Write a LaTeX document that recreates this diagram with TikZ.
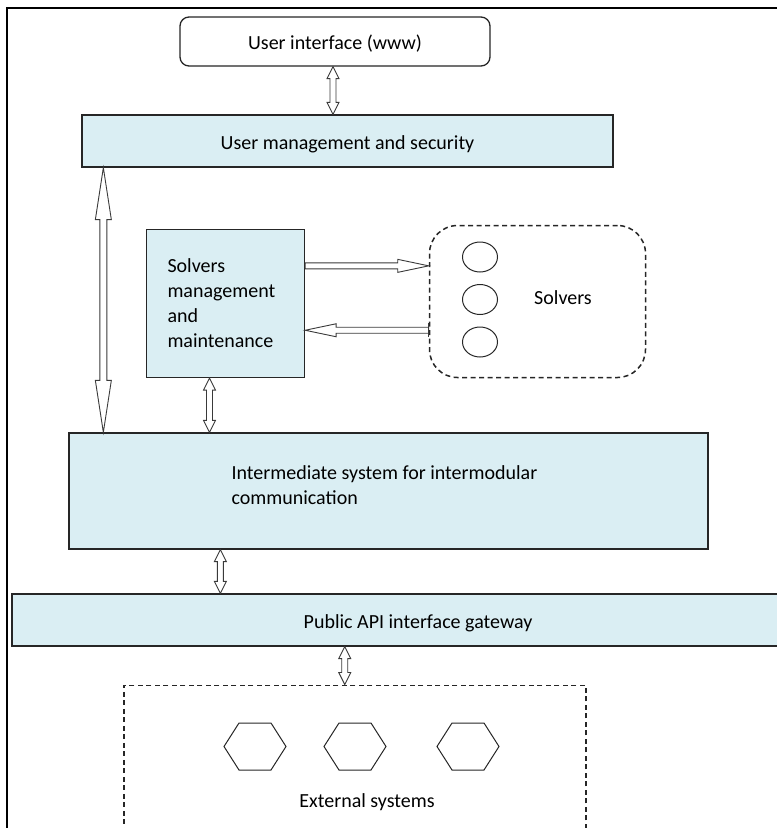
\documentclass[tikz,border=0pt]{standalone}
\usepackage{fontspec}
\setmainfont{Carlito}
\usetikzlibrary{calc,shapes.geometric}

\definecolor{boxfill}{HTML}{DAEEF3}
\definecolor{boxline}{HTML}{262626}
\definecolor{arrowgray}{HTML}{3A3A3A}

\tikzset{
  bluebox/.style={draw=boxline, fill=boxfill, line width=1.3pt, inner sep=0pt},
  whitebox/.style={draw=boxline, fill=white, line width=1.3pt, inner sep=0pt, rounded corners=9pt},
  dashbox/.style={draw=boxline, line width=1.5pt, dash pattern=on 5pt off 3.5pt, inner sep=0pt},
  solver/.style={draw=boxline, line width=1pt, ellipse, minimum width=35pt, minimum height=30pt, inner sep=0pt},
  blockarrow/.style={draw=arrowgray, fill=white, line width=0.9pt, line join=miter},
  lowtext/.style={text height=19pt, text depth=3pt},
  every node/.style={font=\fontsize{20}{25}\selectfont}
}

% hollow block arrow with heads at both ends:
% start, end, shaft half-width, head half-width, head length
\newcommand\twowayarrow[5]{%
  \draw[blockarrow] (#1)
    -- ($(#1)!#5!(#2)!#4!90:(#2)$)
    -- ($(#1)!#5!(#2)!#3!90:(#2)$)
    -- ($(#2)!#5!(#1)!#3!270:(#1)$)
    -- ($(#2)!#5!(#1)!#4!270:(#1)$)
    -- (#2)
    -- ($(#2)!#5!(#1)!#4!90:(#1)$)
    -- ($(#2)!#5!(#1)!#3!90:(#1)$)
    -- ($(#1)!#5!(#2)!#3!270:(#2)$)
    -- ($(#1)!#5!(#2)!#4!270:(#2)$)
    -- cycle;}

% hollow block arrow with one head, at the end
\newcommand\onewayarrow[5]{%
  \draw[blockarrow] ($(#1)!#3!90:(#2)$)
    -- ($(#2)!#5!(#1)!#3!270:(#1)$)
    -- ($(#2)!#5!(#1)!#4!270:(#1)$)
    -- (#2)
    -- ($(#2)!#5!(#1)!#4!90:(#1)$)
    -- ($(#2)!#5!(#1)!#3!90:(#1)$)
    -- ($(#1)!#3!270:(#2)$)
    -- cycle;}

\begin{document}
\begin{tikzpicture}[x=1pt, y=-1pt]
\useasboundingbox (0,0) rectangle (777,828);
\clip (0,0) rectangle (777,828);

% frame
\draw[line width=1.5pt] (7,828) -- (7,8) -- (777,8);

% layers
\node[whitebox, lowtext, minimum width=310pt, minimum height=49pt] (ui) at (335,41.5) {User interface (www)};
\node[bluebox, lowtext, minimum width=531pt, minimum height=52pt] (um) at (347.5,141) {User management and security};
\node[bluebox, minimum width=158pt, minimum height=148pt, text width=116pt, inner xsep=21pt, align=left] (sm) at (225.5,303.5)
  {Solvers\\management\\and\\maintenance};
\node[bluebox, minimum width=639pt, minimum height=116pt] (is) at (388.5,491) {};
\node[anchor=west, align=left] (istext) at (228,485.5) {Intermediate system for intermodular\\communication};
\node[bluebox, lowtext, minimum width=812pt, minimum height=52pt] (api) at (418,620) {Public API interface gateway};

% solvers group
\node[dashbox, rounded corners=28pt, minimum width=216pt, minimum height=152pt] (sol) at (537.5,301.5) {};
\node[solver] (c1) at (480,257) {};
\node[solver] (c2) at (480,299.5) {};
\node[solver] (c3) at (480,342) {};
\node (soltext) at (563,297.5) {Solvers};

% external systems group
\node[dashbox, anchor=north west, minimum width=462pt, minimum height=200pt] (ext) at (123,684.5) {};
\foreach \cx/\nm in {255/h1, 355/h2, 468/h3} {
  \coordinate (\nm) at (\cx,746.5);
  \draw[draw=boxline, line width=1pt]
    ($(\nm)+(-31,0)$) -- ($(\nm)+(-16,-23.5)$) -- ($(\nm)+(16,-23.5)$) --
    ($(\nm)+(31,0)$) -- ($(\nm)+(16,23.5)$) -- ($(\nm)+(-16,23.5)$) -- cycle;
}
\node (exttext) at (367,802.5) {External systems};

% connector end points
\coordinate (uiA) at ($(ui.south)+(-2,0)$);
\coordinate (uiB) at (uiA |- um.north);
\coordinate (umA) at ($(um.south west)+(22,0)$);
\coordinate (umB) at (umA |- is.north);
\coordinate (smA) at ($(sm.south)+(-16,0)$);
\coordinate (smB) at (smA |- is.north);
\coordinate (isA) at ($(is.south west)+(152,0)$);
\coordinate (isB) at (isA |- api.north);
\coordinate (apiA) at ($(ext.north)+(-10,0)$);
\coordinate (apiB) at (apiA |- api.south);
\coordinate (toSolA) at ($(sm.north east)+(0,37)$);
\coordinate (toSolB) at (sol.west |- toSolA);
\coordinate (fromSolA) at ($(sol.north west)+(0,105.5)$);
\coordinate (fromSolB) at (sm.east |- fromSolA);

% connectors
\twowayarrow{uiA}{uiB}{3pt}{6pt}{12pt}
\twowayarrow{umA}{umB}{3.5pt}{8pt}{52pt}
\twowayarrow{smA}{smB}{3pt}{6pt}{12pt}
\twowayarrow{isA}{isB}{3pt}{6pt}{12pt}
\twowayarrow{apiB}{apiA}{3pt}{6pt}{12pt}
\onewayarrow{toSolA}{toSolB}{3pt}{6.5pt}{31pt}
\onewayarrow{fromSolA}{fromSolB}{3pt}{6.5pt}{31pt}
\draw[arrowgray, line width=1.2pt] ($(fromSolA)+(0,-7)$) -- ($(fromSolA)+(0,7)$);
\end{tikzpicture}
\end{document}
